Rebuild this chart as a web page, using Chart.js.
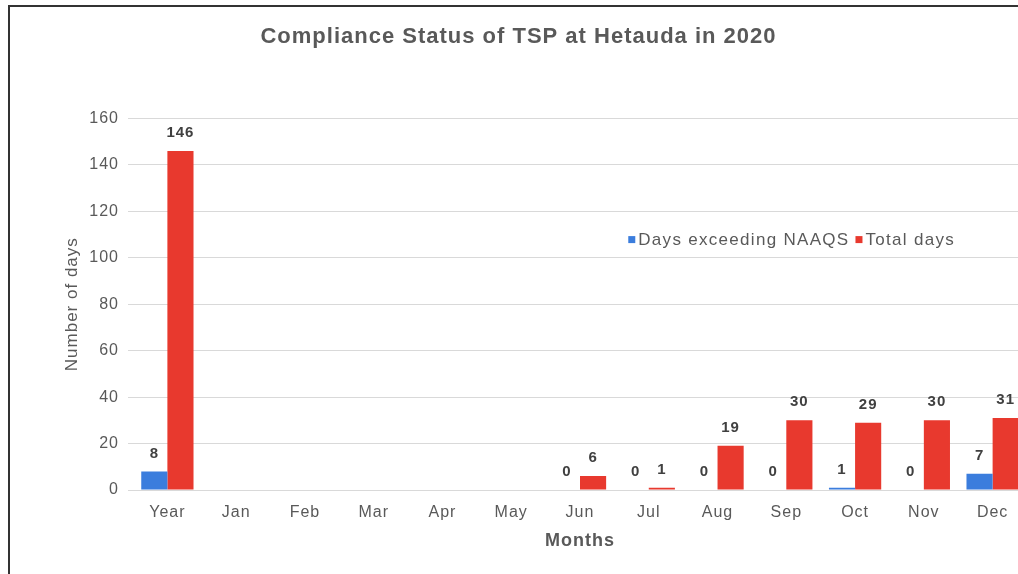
<!DOCTYPE html>
<html>
<head>
<meta charset="utf-8">
<title>Compliance Status of TSP at Hetauda in 2020</title>
<script src="https://cdn.jsdelivr.net/npm/chart.js@4.4.1/dist/chart.umd.min.js"></script>
<style>
    html, body { margin: 0; padding: 0; background: #fff; overflow: hidden; }
    #frame {
        position: absolute;
        left: 8px;
        top: 5px;
        width: 1060px;
        height: 580px;
        border-left: 2px solid #333;
        border-top: 2px solid #333;
        background: #fff;
    }
    #chartBox { position: relative; width: 1050px; height: 566px; }
</style>
</head>
<body>
<div id="frame">
    <div id="chartBox"><canvas id="tspChart"></canvas></div>
</div>
<script>
// Datos
const categories = ['Year', 'Jan', 'Feb', 'Mar', 'Apr', 'May', 'Jun', 'Jul', 'Aug', 'Sep', 'Oct', 'Nov', 'Dec'];
const exceedingDays = [8, null, null, null, null, null, 0, 0, 0, 0, 1, 0, 7];
const totalDays = [146, null, null, null, null, null, 6, 1, 19, 30, 29, 30, 31];
const yTicks = [0, 20, 40, 60, 80, 100, 120, 140, 160];

const FONT = '"Liberation Sans", Arial, sans-serif';
const TEXT_GRAY = '#595959';
const LABEL_GRAY = '#404040';

// El texto del original va algo espaciado
const spacing = {
    id: 'spacing',
    beforeLayout(chart) { chart.ctx.letterSpacing = '1px'; },
    beforeDraw(chart) { chart.ctx.letterSpacing = '1px'; }
};

// Etiquetas encima de cada barra
const barLabels = {
    id: 'barLabels',
    afterDatasetsDraw(chart) {
        const ctx = chart.ctx;
        ctx.save();
        ctx.font = 'bold 15px ' + FONT;
        ctx.fillStyle = LABEL_GRAY;
        ctx.textAlign = 'center';
        ctx.textBaseline = 'middle';
        chart.data.datasets.forEach((ds, i) => {
            chart.getDatasetMeta(i).data.forEach((bar, j) => {
                const v = ds.data[j];
                if (v === null || v === undefined) return;
                ctx.fillText(String(v), bar.x, bar.y - 18);
            });
        });
        ctx.restore();
    }
};

// Leyenda dentro del area del grafico
const innerLegend = {
    id: 'innerLegend',
    afterDraw(chart) {
        const ctx = chart.ctx;
        const area = chart.chartArea;
        const y = chart.scales.y.getPixelForValue(107.6);
        let x = area.left + (area.right - area.left) * 0.554;
        ctx.save();
        ctx.font = '17px ' + FONT;
        ctx.letterSpacing = '1.3px';
        ctx.textBaseline = 'middle';
        chart.data.datasets.forEach(ds => {
            ctx.fillStyle = ds.backgroundColor;
            ctx.fillRect(x, y - 4, 7, 7);
            x += 10;
            ctx.fillStyle = TEXT_GRAY;
            ctx.fillText(ds.label, x, y);
            x += ctx.measureText(ds.label).width + 6;
        });
        ctx.restore();
    }
};

const ctx = document.getElementById('tspChart').getContext('2d');

new Chart(ctx, {
    type: 'bar',
    data: {
        labels: categories,
        datasets: [
            {
                label: 'Days exceeding NAAQS',
                data: exceedingDays,
                backgroundColor: '#3b7ddd',
                categoryPercentage: 0.76,
                barPercentage: 1.0
            },
            {
                label: 'Total days',
                data: totalDays,
                backgroundColor: '#e8392e',
                categoryPercentage: 0.76,
                barPercentage: 1.0
            }
        ]
    },
    options: {
        responsive: true,
        maintainAspectRatio: false,
        animation: false,
        layout: {
            padding: { top: 0, left: 0, right: 33, bottom: 15 }
        },
        plugins: {
            legend: { display: false },
            tooltip: { enabled: false },
            title: {
                display: true,
                text: 'Compliance Status of TSP at Hetauda in 2020',
                color: TEXT_GRAY,
                font: { family: FONT, size: 22, weight: 'bold' },
                padding: { top: 17, bottom: 68 }
            }
        },
        scales: {
            x: {
                grid: { display: false },
                border: { display: false },
                ticks: {
                    color: TEXT_GRAY,
                    font: { family: FONT, size: 16 },
                    padding: 5
                },
                title: {
                    display: true,
                    text: 'Months',
                    color: TEXT_GRAY,
                    font: { family: FONT, size: 18, weight: 'bold' },
                    padding: { top: 4, bottom: 6 }
                },
                afterFit(scale) { scale.height = 68; }
            },
            y: {
                min: yTicks[0],
                max: yTicks[yTicks.length - 1],
                afterBuildTicks(scale) {
                    scale.ticks = yTicks.map(v => ({ value: v }));
                },
                grid: { color: '#d9d9d9', tickLength: 5, tickColor: '#d9d9d9' },
                border: { display: false },
                ticks: {
                    color: TEXT_GRAY,
                    font: { family: FONT, size: 16 },
                    padding: 9
                },
                title: {
                    display: true,
                    text: 'Number of days',
                    color: TEXT_GRAY,
                    font: { family: FONT, size: 17 },
                    padding: { top: 52, bottom: 0 }
                },
                afterFit(scale) { scale.width = 123; }
            }
        }
    },
    plugins: [spacing, barLabels, innerLegend]
});
</script>
</body>
</html>
